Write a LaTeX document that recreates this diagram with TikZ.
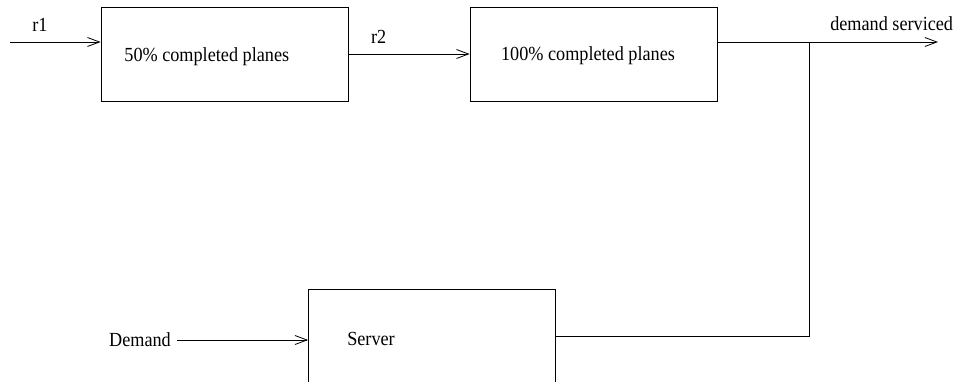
\documentclass[tikz,border=0pt]{standalone}
\usepackage{fontspec}
\setmainfont{Liberation Serif}[FakeStretch=0.91]
\usetikzlibrary{arrows.meta}

\begin{document}
\begin{tikzpicture}[x=1pt, y=-1pt, font=\fontsize{20}{23}\selectfont, line width=0.8pt,
    >={Straight Barb[length=12pt,width=9pt]},
    box/.style={draw, minimum width=247pt, minimum height=94pt, inner sep=0pt},
    txt/.style={inner sep=0pt},
    lbl/.style={inner sep=0.5pt, above=10pt}]
  \useasboundingbox (0,0) rectangle (958,381);
  \node[box] (half) at (224.5,54) {};
  \node[txt, anchor=west] (halftxt) at (124,57) {50\% completed planes};
  \node[box] (full) at (593.5,54) {};
  \node[txt] (fulltxt) at (588,56) {100\% completed planes};
  \node[box] (server) at (432,336) {};
  \node[txt] (servertxt) at (371,339) {Server};
  \node[txt] (demand) at (140,340) {Demand};
  \coordinate (in) at (10,42);
  \coordinate (join) at (809,42);
  \coordinate (out) at (938,42);
  \path[->]
  (in) edge node [lbl, pos=0.33] {r1} (in -| half.west)
  (half) edge node [lbl, pos=0.25] {r2} (full)
  ([xshift=6pt]demand.east) edge (demand.east -| server.west)
  (join -| full.east) edge node [lbl, pos=0.79] {demand serviced} (out)
  ;
  \draw (server) -- (server -| join) -- (join);
\end{tikzpicture}
\end{document}
